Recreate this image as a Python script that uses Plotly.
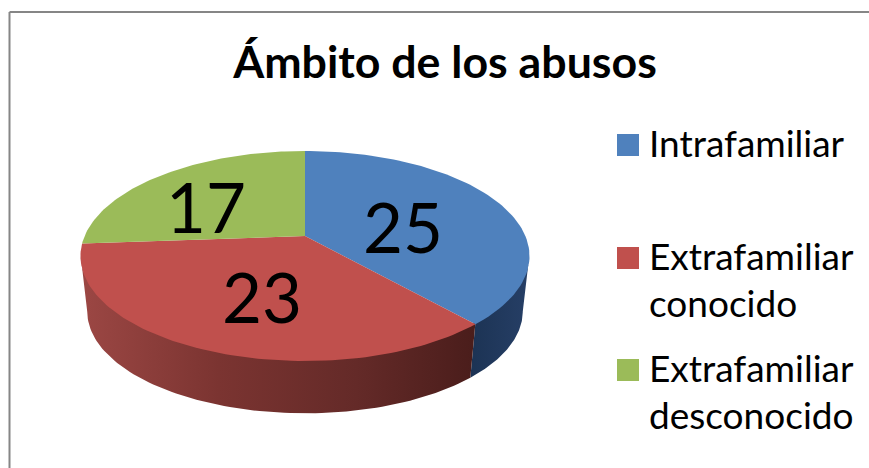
import numpy as np
import plotly.graph_objects as go

# datos
categorias = ['Intrafamiliar', 'Extrafamiliar\nconocido', 'Extrafamiliar\ndesconocido']
valores = [25, 23, 17]
colores = ['#4f81bd', '#c0504d', '#9bbb59']
titulo = 'Ámbito de los abusos'

# perspectiva de la tarta (pixeles, los ejes van 1:1 con la imagen)
cx, cy = 305, 236
rx, ry, p = 220.4, 101.2, 0.1905
alto, esc = 56, 0.97


def borde(t1, t2, abajo=False):
    t = np.radians(np.linspace(t1, t2, 90))
    w = 1 + p * np.cos(t)
    x = rx * np.sin(t) / w
    y = -ry * np.cos(t) / w
    if abajo:
        return cx + esc * x, cy + alto + esc * y
    return cx + x, cy + y


fig = go.Figure()
angulos = np.cumsum([0] + valores) / sum(valores) * 360

# lateral, solo la parte de delante
degradados = [
    [[0, '#1c3354'], [1, '#263f66']],
    [[0, '#9c4744'], [0.35, '#7b3431'], [0.7, '#642a28'], [1, '#4a1d1b']],
]
for i, grad in enumerate(degradados):
    t1 = max(angulos[i], 101)
    t2 = min(angulos[i + 1], 259)
    x1, y1 = borde(t1, t2)
    x2, y2 = borde(t2, t1, abajo=True)
    # un poco por debajo de la cara de arriba para que no quede raya blanca
    fig.add_trace(go.Scatter(x=np.r_[x1, x2], y=np.r_[y1 - 2, y2], mode='lines', fill='toself',
                             line=dict(width=0), fillgradient=dict(type='horizontal', colorscale=grad),
                             hoverinfo='skip', showlegend=False))

# cara de arriba
for i, valor in enumerate(valores):
    x1, y1 = borde(angulos[i], angulos[i + 1])
    fig.add_trace(go.Scatter(x=np.r_[cx, x1], y=np.r_[cy, y1], mode='lines', fill='toself',
                             line=dict(width=0), fillcolor=colores[i], name=categorias[i],
                             hoverinfo='skip', showlegend=False))

# etiquetas de valores
pos_etiquetas = [(403, 226), (262, 296), (206, 206)]
for valor, (x, y) in zip(valores, pos_etiquetas):
    fig.add_annotation(x=x, y=y, text=str(valor), showarrow=False, xanchor='center', yanchor='middle',
                       font=dict(family='Lato', size=69, color='black'))

# leyenda
pos_leyenda = [145, 258, 370]
fig.add_trace(go.Scatter(x=[628] * 3, y=pos_leyenda, mode='markers',
                         marker=dict(symbol='square', size=22, color=colores, line=dict(width=0)),
                         hoverinfo='skip', showlegend=False))
for nombre, y in zip(categorias, pos_leyenda):
    for j, linea in enumerate(nombre.split('\n')):
        fig.add_annotation(x=647, y=y - 3 + j * 47, text=linea, showarrow=False, xanchor='left', yanchor='middle',
                           font=dict(family='Lato', size=37, color='black'))

# marco
fig.add_shape(type='line', x0=9.5, x1=9.5, y0=12, y1=468, line=dict(color='#868686', width=2))
fig.add_shape(type='line', x0=9.5, x1=869, y0=12, y1=12, line=dict(color='#868686', width=2))

fig.update_layout(
    width=869, height=468, margin=dict(l=0, r=0, t=0, b=0),
    paper_bgcolor='white', plot_bgcolor='white',
    title=dict(text='<b>' + titulo + '</b>', x=445 / 869, y=1 - 62 / 468, xanchor='center', yanchor='middle',
               font=dict(family='Lato', size=44.7, color='black')),
    xaxis=dict(range=[0, 869], visible=False),
    yaxis=dict(range=[468, 0], visible=False),
)
fig.write_html('out.html', config=dict(displayModeBar=False),
               post_script="document.body.style.margin='0';document.body.style.overflow='hidden';")
